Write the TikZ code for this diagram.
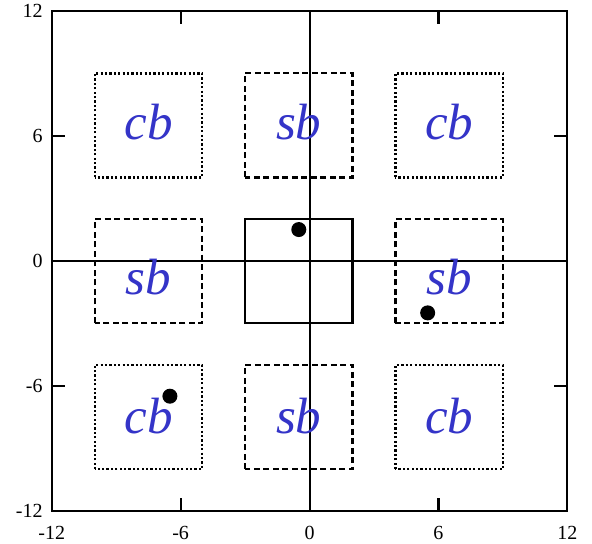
\documentclass[tikz,border=0pt]{standalone}
\usepackage{fontspec}
\setmainfont{Liberation Serif}
\usepackage{xcolor}
\usepackage{tikz}
\usetikzlibrary{positioning, calc}
\definecolor{labblue}{RGB}{52,52,200}

\begin{document}
\begin{tikzpicture}[
  x=21.48pt, y=20.83pt,
  frame/.style={line width=2.2pt, black},
  axis/.style={line width=2pt, black},
  tickmark/.style={line width=2.2pt, black},
  ticklab/.style={font=\fontsize{20}{20}\selectfont, inner sep=0pt},
  centrebox/.style={line width=2.2pt},
  sbbox/.style={line width=2.2pt, dash pattern=on 6pt off 3.5pt},
  cbbox/.style={line width=2.4pt, dash pattern=on 2.2pt off 2.2pt},
  boxlab/.style={font=\fontsize{51}{51}\selectfont\itshape, text=labblue, inner sep=0pt},
  pt/.style={fill=black, circle, inner sep=0pt, minimum size=15pt}
]
\useasboundingbox (-14.41,-13.55) rectangle (13.15,12.52);

% frame and axes
\draw[frame] (-12,-12) rectangle (12,12);
\draw[axis] (-12,0) -- (12,0);
\draw[axis] (0,-12) -- (0,12);
\foreach \t in {-6,6} {
  \draw[tickmark] (\t,-12) -- ++(0,13pt);
  \draw[tickmark] (\t,12) -- ++(0,-13pt);
  \draw[tickmark] (-12,\t) -- ++(13pt,0);
  \draw[tickmark] (12,\t) -- ++(-13pt,0);
}
\foreach \t in {-12,-6,0,6,12} {
  \node[ticklab, anchor=north] (xl\t) at (\t,-12) [yshift=-15pt] {\t};
  \node[ticklab, anchor=east] (yl\t) at (-12,\t) [xshift=-9pt] {\t};
}

% boxes (corner x / corner y / label shift)
\draw[centrebox] (-3,-3) rectangle (2,2);
\foreach \cx/\cy/\dy in {-10/4/3, 4/4/3, -10/-10/1, 4/-10/1} {
  \draw[cbbox] (\cx,\cy) rectangle ++(5,5);
  \node[boxlab] (cb\cx\cy) at ($(\cx,\cy)+(2.5,2.5)$) [yshift=\dy pt] {cb};
}
\foreach \cx/\cy/\dy in {-3/4/3, -10/-3/-6, 4/-3/-6, -3/-10/1} {
  \draw[sbbox] (\cx,\cy) rectangle ++(5,5);
  \node[boxlab] (sb\cx\cy) at ($(\cx,\cy)+(2.5,2.5)$) [yshift=\dy pt] {sb};
}

% points
\node[pt] (p1) at (-0.5,1.5) {};
\node[pt] (p2) at (5.5,-2.5) {};
\node[pt] (p3) at (-6.5,-6.5) {};
\end{tikzpicture}
\end{document}
